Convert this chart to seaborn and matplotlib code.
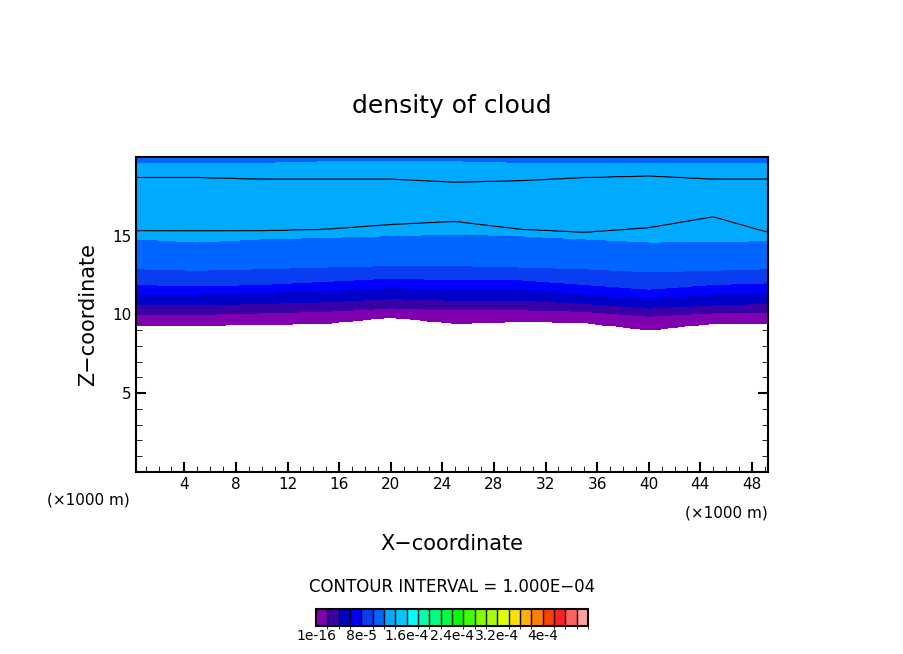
import numpy as np
import matplotlib
matplotlib.use("Agg")
import matplotlib.pyplot as plt
import seaborn as sns
from matplotlib.colors import ListedColormap, BoundaryNorm

sns.set_style("ticks")
plt.rcParams['font.family'] = ['DejaVu Sans']
plt.rcParams['text.color'] = 'black'
plt.rcParams['axes.labelcolor'] = 'black'
plt.rcParams['xtick.color'] = 'black'
plt.rcParams['ytick.color'] = 'black'
plt.rcParams['axes.edgecolor'] = 'black'

# x samples (km) and boundary heights (km) of each density level
x_km = [0.25, 5, 10, 15, 20, 25, 30, 35, 40, 45, 49.25]
z_base = [9.3, 9.3, 9.35, 9.4, 9.8, 9.4, 9.5, 9.45, 9.0, 9.4, 9.4]
z_2e5 = [10.0, 10.0, 10.1, 10.2, 10.4, 10.3, 10.3, 10.2, 9.9, 10.1, 10.1]
z_4e5 = [10.6, 10.6, 10.7, 10.8, 11.0, 10.9, 10.9, 10.7, 10.4, 10.6, 10.7]
z_6e5 = [11.3, 11.3, 11.4, 11.5, 11.7, 11.6, 11.6, 11.3, 11.0, 11.3, 11.4]
z_8e5 = [11.9, 11.8, 11.9, 12.1, 12.3, 12.2, 12.2, 11.9, 11.6, 11.9, 12.0]
z_1e4 = [12.9, 12.8, 12.9, 13.0, 13.1, 13.1, 13.0, 12.9, 12.7, 12.8, 12.9]
z_12e5 = [14.8, 14.6, 14.8, 14.9, 15.0, 15.1, 15.0, 14.8, 14.6, 14.6, 14.7]
z_lo = [15.3, 15.3, 15.3, 15.4, 15.7, 15.9, 15.4, 15.2, 15.5, 16.2, 15.2]
z_mid = [17.0, 17.0, 17.1, 17.2, 17.2, 17.3, 17.0, 17.0, 17.2, 17.4, 17.0]
z_hi = [18.7, 18.7, 18.6, 18.6, 18.6, 18.4, 18.5, 18.7, 18.8, 18.6, 18.6]
z_top = [19.6, 19.6, 19.6, 19.7, 19.7, 19.7, 19.6, 19.6, 19.6, 19.6, 19.6]
level_vals = [1e-16, 2e-5, 4e-5, 6e-5, 8e-5, 1.0e-4, 1.2e-4, 1.3e-4, 1.36e-4, 1.3e-4, 1.2e-4]
top_val = 1.15e-4

cbar_labels = ["1e-16", "8e-5", "1.6e-4", "2.4e-4", "3.2e-4", "4e-4"]
colors = ["#8000b0", "#3a00a8", "#0000c8", "#0000ff", "#0a3cf0", "#0066ff",
          "#00aaff", "#00c8ff", "#00ffff", "#00ffb0", "#00ff80", "#00ff40",
          "#00ff00", "#40ff00", "#80ff00", "#a8ff00", "#e0ff00", "#ffe000",
          "#ffb000", "#ff8000", "#ff4000", "#ff2020", "#ff6060", "#ffa0a0"]

xg = np.linspace(0.25, 49.25, 200)
zg = np.linspace(0, 20, 400)
bounds = [z_base, z_2e5, z_4e5, z_6e5, z_8e5, z_1e4, z_12e5, z_lo, z_mid, z_hi, z_top]
B = np.array([np.interp(xg, x_km, b) for b in bounds])
F = np.full((len(zg), len(xg)), np.nan)
for j in range(len(xg)):
    zz = list(B[:, j]) + [20.0]
    vv = list(level_vals) + [top_val]
    col = np.interp(zg, zz, vv)
    col[zg < B[0, j]] = np.nan
    F[:, j] = col

levels = [i * 2e-5 for i in range(25)]
levels[0] = 1e-16
cmap = ListedColormap(colors)
norm = BoundaryNorm(levels, cmap.N)

fig = plt.figure(figsize=(9.04, 6.54), dpi=100)
ax = fig.add_axes([0.1504, 0.2783, 0.6992, 0.4817])
X, Z = np.meshgrid(xg, zg)
ax.contourf(X, Z, F, levels=levels, cmap=cmap, norm=norm)
ax.contour(X, Z, F, levels=[1.3e-4], colors="black", linewidths=0.8)
ax.set_xlim(0.25, 49.25)
ax.set_ylim(0, 20)
ax.set_xticks([4, 8, 12, 16, 20, 24, 28, 32, 36, 40, 44, 48])
ax.set_xticks(np.arange(1, 50, 1), minor=True)
ax.set_yticks([5, 10, 15])
ax.set_yticks(np.arange(1, 20, 1), minor=True)
ax.tick_params(direction="in", which="both", top=True, right=True, labelsize=11)
ax.tick_params(which="major", length=7, width=1.5)
ax.tick_params(which="minor", length=4)
for s in ax.spines.values():
    s.set_linewidth(1.5)
ax.set_xlabel("X\u2212coordinate", fontsize=15, labelpad=30)
ax.set_ylabel("Z\u2212coordinate", fontsize=15, labelpad=10)
ax.set_title("density of cloud", fontsize=18, pad=32)
fig.text(0.052, 0.228, "(\u00d71000 m)", fontsize=11)
fig.text(0.758, 0.208, "(\u00d71000 m)", fontsize=11)
fig.text(0.5, 0.095, "CONTOUR INTERVAL = 1.000E\u221204", ha="center", fontsize=12)

cax = fig.add_axes([0.3496, 0.043, 0.3009, 0.026])
sm = plt.cm.ScalarMappable(cmap=cmap, norm=BoundaryNorm(np.arange(25), 24))
cb = fig.colorbar(sm, cax=cax, orientation="horizontal", boundaries=np.arange(25))
cb.set_ticks([0, 4, 8, 12, 16, 20])
cb.set_ticklabels(cbar_labels)
cb.ax.tick_params(length=0, labelsize=10, pad=2)
cb.outline.set_linewidth(1.5)
for i in range(1, 24):
    cax.axvline(i, color="black", lw=1)
fig.savefig("out.png", dpi=100, facecolor="white")
